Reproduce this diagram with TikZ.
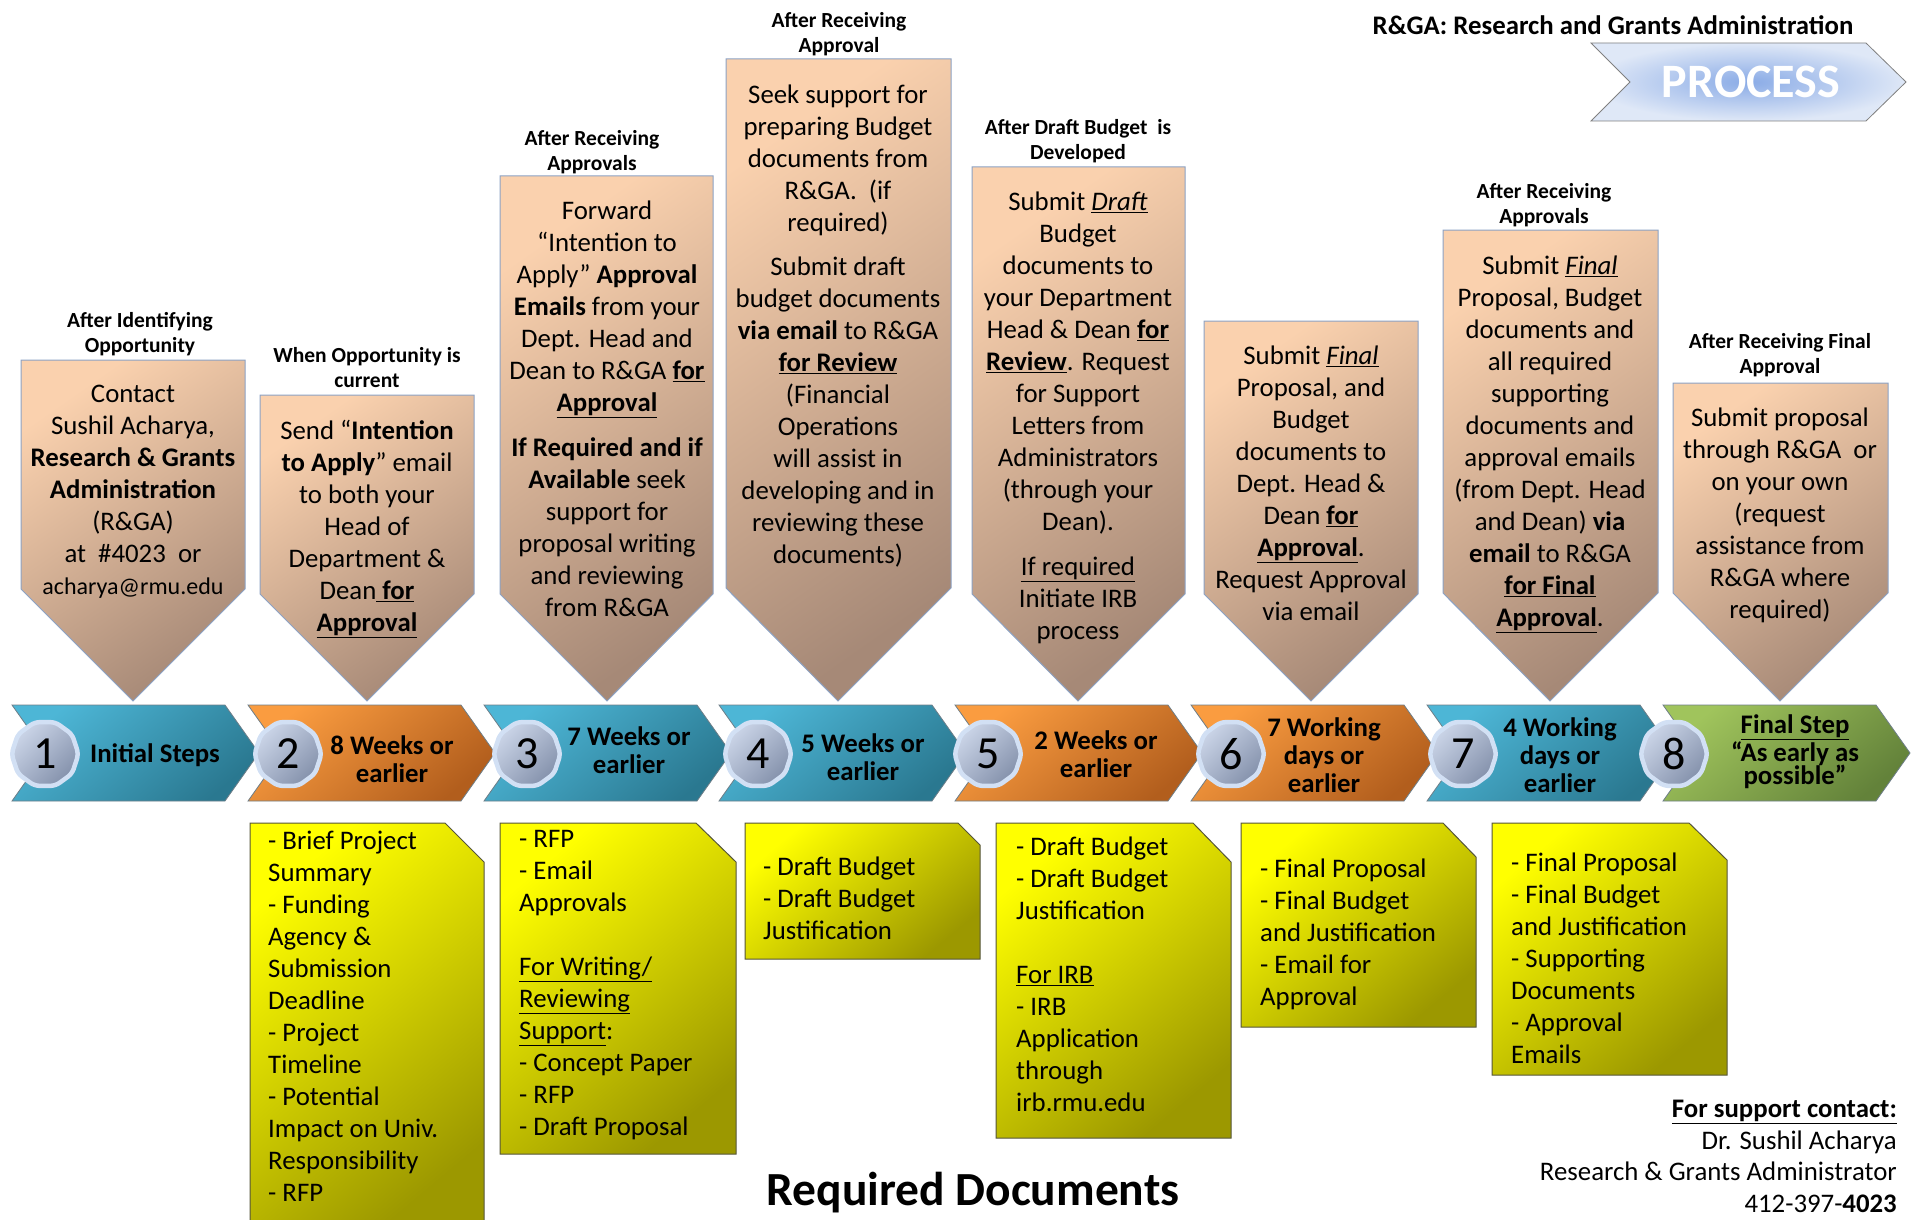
\documentclass[tikz,border=0pt]{standalone}
\usepackage{fontspec}
\setmainfont{Carlito}
\usepackage{tikz}
\usetikzlibrary{shapes.geometric}
\definecolor{peachtop}{HTML}{FAD1AE}
\definecolor{peachbot}{HTML}{A68977}
\definecolor{calloutline}{HTML}{8CA2C4}
\definecolor{bluetop}{HTML}{4DB6D6}
\definecolor{bluebot}{HTML}{2A7890}
\definecolor{orangetop}{HTML}{FA9C40}
\definecolor{orangebot}{HTML}{B25E1D}
\definecolor{greentop}{HTML}{A0C45C}
\definecolor{greenbot}{HTML}{63823A}
\definecolor{chevline}{HTML}{6E7E88}
\definecolor{badgetop}{HTML}{CBD5E8}
\definecolor{badgebot}{HTML}{8491AB}
\definecolor{badgering}{HTML}{D2E0F4}
\definecolor{noteyellow}{HTML}{FFFF00}
\definecolor{noteolive}{HTML}{9C9800}
\definecolor{noteline}{HTML}{55553A}
\definecolor{procinner}{HTML}{8AABE6}
\definecolor{procouter}{HTML}{DFE8F7}

\begin{document}
\begin{tikzpicture}[x=1pt,y=1pt]
\tikzstyle{every node}+=[inner sep=0pt]
\tikzstyle{callout}=[draw=calloutline, line width=1pt, top color=peachtop, bottom color=peachbot, shading angle=35]
\tikzstyle{calltext}=[anchor=north, align=center, font=\fontsize{26.8}{32}\selectfont]
\tikzstyle{calllabel}=[anchor=north, align=center, font=\bfseries\fontsize{21.5}{25}\selectfont]
\tikzstyle{bluechev}=[draw=chevline, line width=0.8pt, top color=bluetop, bottom color=bluebot, shading angle=40]
\tikzstyle{orangechev}=[draw=chevline, line width=0.8pt, top color=orangetop, bottom color=orangebot, shading angle=40]
\tikzstyle{greenchev}=[draw=chevline, line width=0.8pt, top color=greentop, bottom color=greenbot, shading angle=40]
\tikzstyle{chevtext}=[align=center, font=\bfseries\fontsize{26.8}{28}\selectfont]
\tikzstyle{badge}=[regular polygon, regular polygon sides=10, minimum size=67pt, rounded corners=5pt, draw=badgering, line width=4.5pt, top color=badgetop, bottom color=badgebot, shading angle=45, font=\fontsize{46}{46}\selectfont]
\tikzstyle{docnote}=[draw=noteline, line width=1pt, top color=noteyellow, bottom color=noteolive, shading angle=40]
\tikzstyle{notetext}=[anchor=north west, align=left, font=\fontsize{26.8}{32}\selectfont]
\useasboundingbox (0,0) rectangle (1912,-1220);
% header
\node (title) at (1613,-25) {\bfseries\fontsize{26.8}{30}\selectfont R\&GA: Research and Grants Administration};
\path [draw=gray, line width=0.8pt, inner color=procinner, outer color=procouter] (1591,-43) -- (1866,-43) -- (1906,-82) -- (1866,-121) -- (1591,-121) -- (1630,-82) -- cycle;
\node [text=white] (proc) at (1751,-82) {\bfseries\fontsize{48}{48}\selectfont PROCESS};
% callouts
\path [callout] (21,-360) -- (245,-360) -- (245,-589) -- (133,-701) -- (21,-589) -- cycle;
\node [calllabel] (l1) at (140,-312) {After Identifying\\Opportunity};
\node [calltext] (c1) at (133,-385) {Contact\\Sushil Acharya,\\\textbf{Research \& Grants}\\\textbf{Administration}\\(R\&GA)\\at \ \#4023 \ or\\{\fontsize{24}{32}\selectfont acharya@rmu.edu}};
\path [callout] (260,-395) -- (474,-395) -- (474,-594) -- (367,-701) -- (260,-594) -- cycle;
\node [calllabel] (l2) at (367,-347) {When Opportunity is\\current};
\node [calltext] (c2) at (367,-420) {Send “\textbf{Intention}\\\textbf{to Apply}” email\\to both your\\Head of\\Department \&\\Dean\underline{ \textbf{for}}\\\underline{\textbf{Approval}}};
\path [callout] (500,-176) -- (713,-176) -- (713,-594) -- (607,-701) -- (500,-594) -- cycle;
\node [calllabel] (l3) at (592,-130) {After Receiving\\Approvals};
\node [calltext] (c3) at (607,-201) {Forward\\“Intention to\\Apply” \textbf{Approval}\\\textbf{Emails} from your\\Dept. Head and\\Dean to R\&GA \underline{\textbf{for}}\\\underline{\textbf{Approval}}\\[13pt]\textbf{If Required and if}\\\textbf{Available} seek\\support for\\proposal writing\\and reviewing\\from R\&GA};
\path [callout] (726,-59) -- (951,-59) -- (951,-588) -- (838,-701) -- (726,-588) -- cycle;
\node [calllabel] (l4) at (839,-12) {After Receiving\\Approval};
\node [calltext] (c4) at (838,-85) {Seek support for\\preparing Budget\\documents from\\R\&GA. \ (if\\required)\\[12pt]Submit draft\\budget documents\\\textbf{via email} to R\&GA\\\underline{\textbf{for Review}}\\(Financial\\Operations\\will assist in\\developing and in\\reviewing these\\documents)};
\path [callout] (972,-167) -- (1185,-167) -- (1185,-594) -- (1078,-701) -- (972,-594) -- cycle;
\node [calllabel] (l5) at (1078,-119) {After Draft Budget \ is\\Developed};
\node [calltext] (c5) at (1078,-192) {Submit \underline{\textit{Draft}}\\Budget\\documents to\\your Department\\Head \& Dean \underline{\textbf{for}}\\\underline{\textbf{Review}}. Request\\for Support\\Letters from\\Administrators\\(through your\\Dean).\\[13pt]\underline{If required}\\Initiate IRB\\process};
\path [callout] (1204,-321) -- (1418,-321) -- (1418,-594) -- (1311,-701) -- (1204,-594) -- cycle;
\node [calltext] (c6) at (1311,-346) {Submit \underline{\textit{Final}}\\Proposal, and\\Budget\\documents to\\Dept. Head \&\\Dean \underline{\textbf{for}}\\\underline{\textbf{Approval}}.\\Request Approval\\via email};
\path [callout] (1443,-230) -- (1658,-230) -- (1658,-593) -- (1550,-701) -- (1443,-593) -- cycle;
\node [calllabel] (l7) at (1544,-183) {After Receiving\\Approvals};
\node [calltext] (c7) at (1550,-256) {Submit \underline{\textit{Final}}\\Proposal, Budget\\documents and\\all required\\supporting\\documents and\\approval emails\\(from Dept. Head\\and Dean) \textbf{via}\\\textbf{email} to R\&GA\\\underline{\textbf{for Final}}\\\underline{\textbf{Approval}}.};
\path [callout] (1673,-383) -- (1888,-383) -- (1888,-593) -- (1780,-701) -- (1673,-593) -- cycle;
\node [calllabel] (l8) at (1780,-333) {After Receiving Final\\Approval};
\node [calltext] (c8) at (1780,-408) {Submit proposal\\through R\&GA \ or\\on your own\\(request\\assistance from\\R\&GA where\\required)};
% chevrons
\path [bluechev] (12,-705) -- (225,-705) -- (259,-753) -- (225,-801) -- (12,-801) -- (46,-753) -- cycle;
\path [orangechev] (248,-705) -- (461,-705) -- (495,-753) -- (461,-801) -- (248,-801) -- (282,-753) -- cycle;
\path [bluechev] (484,-705) -- (697,-705) -- (731,-753) -- (697,-801) -- (484,-801) -- (518,-753) -- cycle;
\path [bluechev] (719,-705) -- (932,-705) -- (966,-753) -- (932,-801) -- (719,-801) -- (753,-753) -- cycle;
\path [orangechev] (955,-705) -- (1168,-705) -- (1202,-753) -- (1168,-801) -- (955,-801) -- (989,-753) -- cycle;
\path [orangechev] (1191,-705) -- (1404,-705) -- (1438,-753) -- (1404,-801) -- (1191,-801) -- (1225,-753) -- cycle;
\path [bluechev] (1427,-705) -- (1640,-705) -- (1674,-753) -- (1640,-801) -- (1427,-801) -- (1461,-753) -- cycle;
\path [greenchev] (1663,-705) -- (1876,-705) -- (1910,-753) -- (1876,-801) -- (1663,-801) -- (1697,-753) -- cycle;
\node [chevtext] (ct1) at (155,-755) {Initial Steps};
\node [chevtext] (ct2) at (392,-759) {8 Weeks or\\earlier};
\node [chevtext] (ct3) at (629,-750) {7 Weeks or\\earlier};
\node [chevtext] (ct4) at (863,-757) {5 Weeks or\\earlier};
\node [chevtext] (ct5) at (1096,-754) {2 Weeks or\\earlier};
\node [chevtext] (ct6) at (1324,-755) {7 Working\\days or\\earlier};
\node [chevtext] (ct7) at (1560,-755) {4 Working\\days or\\earlier};
\node [chevtext] (ct8) at (1795,-752) {\underline{Final Step}\\“As early as\\[-5pt]possible”};
\node [badge] (b1) at (45,-754) {1};
\node [badge] (b2) at (288,-754) {2};
\node [badge] (b3) at (527,-754) {3};
\node [badge] (b4) at (758,-754) {4};
\node [badge] (b5) at (988,-754) {5};
\node [badge] (b6) at (1231,-754) {6};
\node [badge] (b7) at (1463,-754) {7};
\node [badge] (b8) at (1674,-754) {8};
% required documents
\path [docnote] (250,-823) -- (445,-823) -- (484,-862) -- (484,-1230) -- (250,-1230) -- cycle;
\node [notetext] (n2) at (268,-831) {- Brief Project\\Summary\\- Funding\\Agency \&\\Submission\\Deadline\\- Project\\Timeline\\- Potential\\Impact on Univ.\\Responsibility\\- RFP};
\path [docnote] (500,-823) -- (696,-823) -- (736,-862) -- (736,-1154) -- (500,-1154) -- cycle;
\node [notetext] (n3) at (519,-830) {- RFP\\- Email\\Approvals\\[32pt]\underline{For Writing/}\\\underline{Reviewing}\\\underline{Support}:\\- Concept Paper\\- RFP\\- Draft Proposal};
\path [docnote] (745,-823) -- (958,-823) -- (980,-845) -- (980,-959) -- (745,-959) -- cycle;
\node [notetext] (n4) at (763,-857) {- Draft Budget\\- Draft Budget\\Justification};
\path [docnote] (996,-823) -- (1193,-823) -- (1231,-862) -- (1231,-1138) -- (996,-1138) -- cycle;
\node [notetext] (n5) at (1016,-837) {- Draft Budget\\- Draft Budget\\Justification\\[32pt]\underline{For IRB}\\- IRB\\Application\\through\\irb.rmu.edu};
\path [docnote] (1241,-823) -- (1443,-823) -- (1476,-857) -- (1476,-1027) -- (1241,-1027) -- cycle;
\node [notetext] (n6) at (1260,-859) {- Final Proposal\\- Final Budget\\and Justification\\- Email for\\Approval};
\path [docnote] (1492,-823) -- (1689,-823) -- (1727,-860) -- (1727,-1075) -- (1492,-1075) -- cycle;
\node [notetext] (n7) at (1511,-853) {- Final Proposal\\- Final Budget\\and Justification\\- Supporting\\Documents\\- Approval\\Emails};
\node (reqdocs) at (973,-1193) {\bfseries\fontsize{47.5}{50}\selectfont Required Documents};
\node [anchor=north east, align=right, font=\fontsize{26.8}{31.7}\selectfont] (contact) at (1897,-1100) {\underline{\textbf{For support contact:}}\\Dr. Sushil Acharya\\Research \& Grants Administrator\\412-397-\textbf{4023}};
\end{tikzpicture}
\end{document}
